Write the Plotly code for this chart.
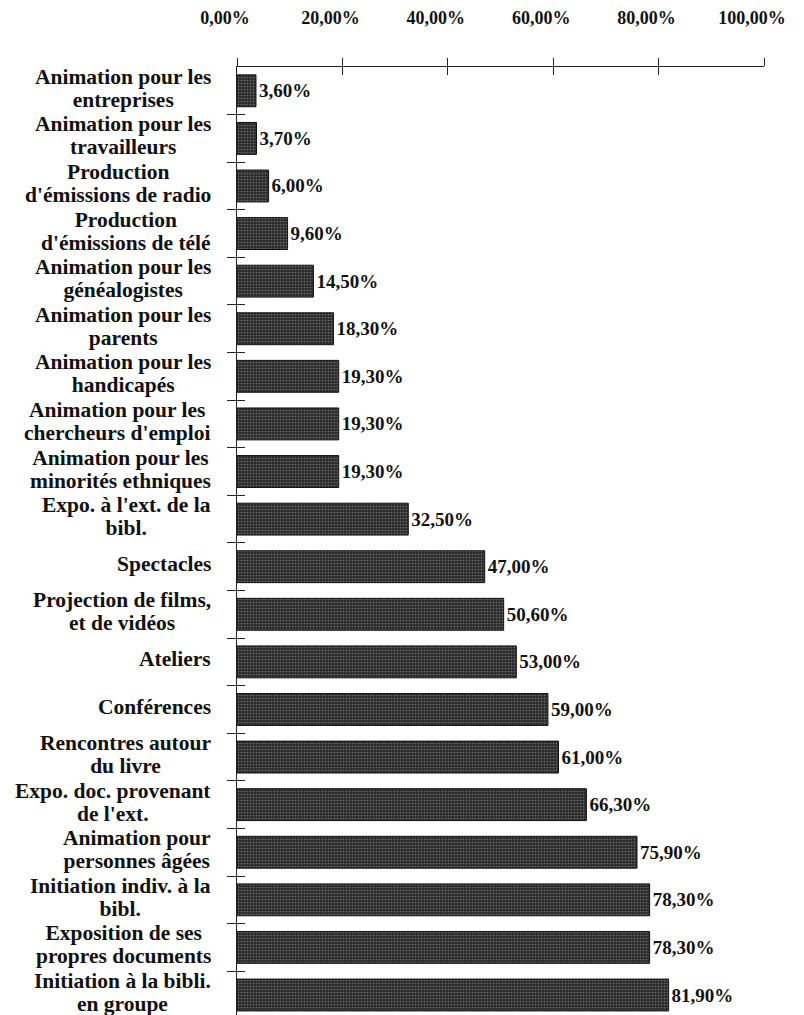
import plotly.graph_objects as go

# Activités d'animation proposées (% des bibliothèques)
categories = [
    "Animation pour les<br>entreprises",
    "Animation pour les<br>travailleurs",
    "Production<br>d'émissions de radio",
    "Production<br>d'émissions de télé",
    "Animation pour les<br>généalogistes",
    "Animation pour les<br>parents",
    "Animation pour les<br>handicapés",
    "Animation pour les<br>chercheurs d'emploi",
    "Animation pour les<br>minorités ethniques",
    "Expo. à l'ext. de la<br>bibl.",
    "Spectacles",
    "Projection de films,<br>et de vidéos",
    "Ateliers",
    "Conférences",
    "Rencontres autour<br>du livre",
    "Expo. doc. provenant<br>de l'ext.",
    "Animation pour<br>personnes âgées",
    "Initiation indiv. à la<br>bibl.",
    "Exposition de ses<br>propres documents",
    "Initiation à la bibli.<br>en groupe",
]
values = [3.6, 3.7, 6.0, 9.6, 14.5, 18.3, 19.3, 19.3, 19.3, 32.5,
          47.0, 50.6, 53.0, 59.0, 61.0, 66.3, 75.9, 78.3, 78.3, 81.9]
x_ticks = [0, 20, 40, 60, 80, 100]

FONT = "Liberation Serif"
labels = [f"<b>{v:.2f}".replace(".", ",") + "%</b>" for v in values]
y_idx = list(range(len(categories)))

fig = go.Figure()
fig.add_trace(go.Bar(
    x=values,
    y=y_idx,
    orientation="h",
    width=0.67,
    text=labels,
    textposition="outside",
    cliponaxis=False,
    textfont=dict(family=FONT, size=19, color="#111111"),
    marker=dict(
        color="#333333",
        line=dict(color="#111111", width=1),
        pattern=dict(shape=".", size=3, solidity=0.25,
                     fgcolor="#6e6e6e", bgcolor="#2c2c2c", fillmode="replace"),
    ),
    showlegend=False,
    hoverinfo="skip",
))
# invisible trace on the overlay axes so their ticks are drawn
fig.add_trace(go.Scatter(x=[0, 100], y=[0, 0], xaxis="x2", yaxis="y2",
                         mode="markers", marker=dict(opacity=0),
                         showlegend=False, hoverinfo="skip"))

# category labels: lines centred on each other, block right aligned by the axis;
# annotation size sets the leading, the span sets the glyph size
for i, c in enumerate(categories):
    lines = c.split("<br>")
    text = "<br>".join(f"<span style='font-size:21.5px'><b>{ln}</b></span>" for ln in lines)
    fig.add_annotation(
        x=0, xref="paper", y=i, yref="y",
        xanchor="right", yanchor="middle", xshift=-24, yshift=2.5,
        text=text, align="center", showarrow=False,
        font=dict(family=FONT, size=17.5, color="#111111"),
    )

yrange = [19.42, -0.5]
fig.update_layout(
    width=804, height=1015,
    margin=dict(l=237, r=40, t=67, b=0),
    paper_bgcolor="white", plot_bgcolor="white",
    bargap=0.33,
    font=dict(family=FONT, color="#111111"),
    xaxis=dict(
        range=[0, 100], side="top", tickvals=x_ticks,
        ticktext=[f"<b>{t:.2f}".replace(".", ",") + "%</b>" for t in x_ticks],
        ticks="outside", ticklen=8, tickcolor="#222", tickwidth=1,
        ticklabelstandoff=27, ticklabelshift=-12,
        tickfont=dict(family=FONT, size=18, color="#111111"),
        showline=True, linecolor="#222", linewidth=1,
        showgrid=False, zeroline=False, fixedrange=True,
    ),
    xaxis2=dict(
        range=[0, 100], overlaying="x", side="top", tickvals=x_ticks,
        showticklabels=False, ticks="inside", ticklen=8,
        tickcolor="#222", tickwidth=1, showgrid=False, zeroline=False,
        showline=False,
    ),
    yaxis=dict(
        range=yrange, tickvals=[i + 0.5 for i in y_idx], showticklabels=False,
        ticks="outside", ticklen=9, tickcolor="#222", tickwidth=1,
        showline=True, linecolor="#222", linewidth=1,
        showgrid=False, zeroline=False, fixedrange=True,
    ),
    yaxis2=dict(
        range=yrange, overlaying="y", tickvals=[i + 0.5 for i in y_idx],
        showticklabels=False, ticks="inside", ticklen=8,
        tickcolor="#222", tickwidth=1, showgrid=False, zeroline=False,
        showline=False,
    ),
)

fig.write_html("out.html")
